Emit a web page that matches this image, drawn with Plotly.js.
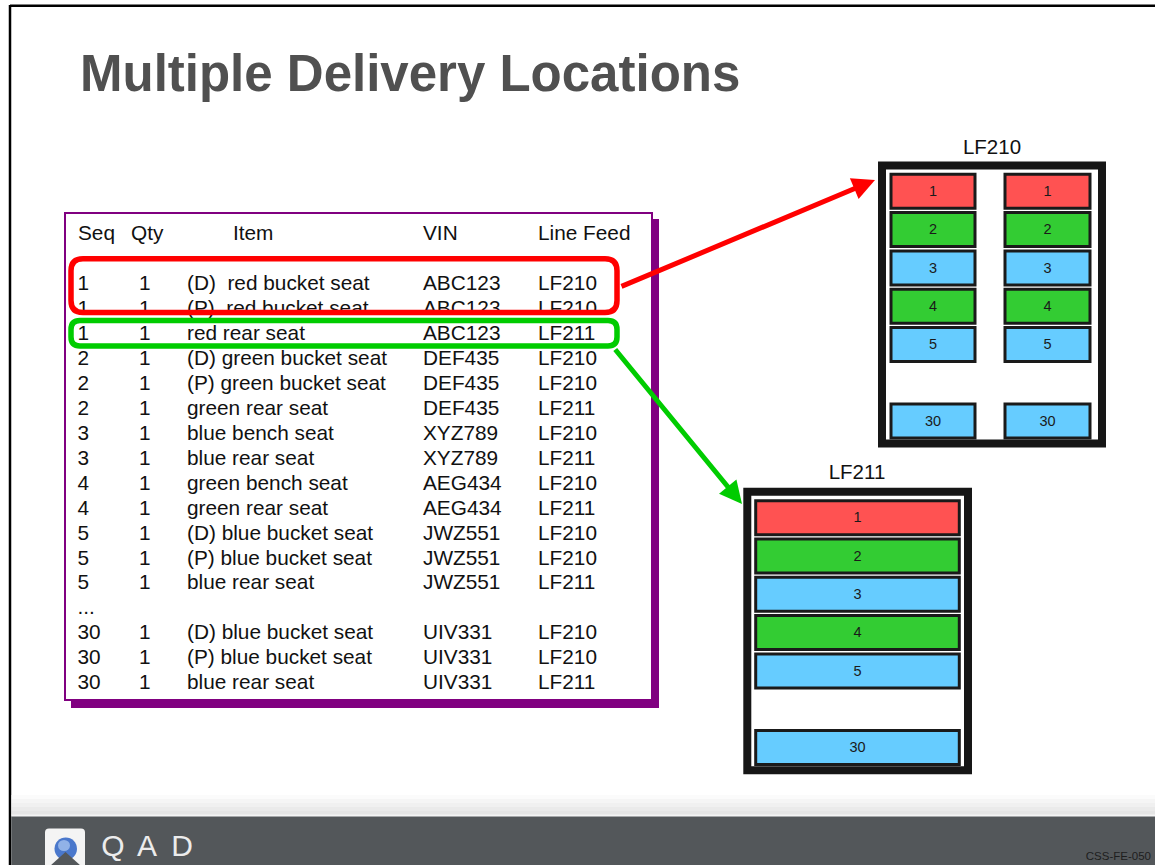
<!DOCTYPE html>
<html><head><meta charset="utf-8">
<script src="https://cdn.plot.ly/plotly-3.0.1.min.js"></script>
<style>html,body{margin:0;padding:0;background:#fff;}#chart{width:1155px;height:865px;}</style>
</head><body><div id="chart"></div>
<script>
// ---------- data ----------
const headers = ['Seq', 'Qty', 'Item', 'VIN', 'Line Feed'];
const seqCol  = ['1','1','1','2','2','2','3','3','4','4','5','5','5','...','30','30','30'];
const qtyCol  = ['1','1','1','1','1','1','1','1','1','1','1','1','1','','1','1','1'];
const itemCol = ['(D)\u00a0 red bucket seat','(P)\u00a0 red bucket seat','red rear seat',
                 '(D) green bucket seat','(P) green bucket seat','green rear seat',
                 'blue bench seat','blue rear seat','green bench seat','green rear seat',
                 '(D) blue bucket seat','(P) blue bucket seat','blue rear seat','',
                 '(D) blue bucket seat','(P) blue bucket seat','blue rear seat'];
const vinCol  = ['ABC123','ABC123','ABC123','DEF435','DEF435','DEF435','XYZ789','XYZ789',
                 'AEG434','AEG434','JWZ551','JWZ551','JWZ551','','UIV331','UIV331','UIV331'];
const feedCol = ['LF210','LF210','LF211','LF210','LF210','LF211','LF210','LF211','LF210',
                 'LF211','LF210','LF210','LF211','','LF210','LF210','LF211'];

const binLabels = ['1','2','3','4','5','30'];
const binSlots  = [0, 1, 2, 3, 4, 6];
const binColors = ['#ff5252','#33cc33','#66ccff','#33cc33','#66ccff','#66ccff'];

const rackNames = ['LF210', 'LF211'];
const titleText = 'Multiple Delivery Locations';
const footerCode = 'CSS-FE-050';
const logoLetters = ['Q', 'A', 'D'];

// ---------- layout geometry ----------
const W = 1155, H = 865;
const FONT = 'Liberation Sans, Arial, sans-serif';
const headerColX = [78, 131, 233, 423, 538];
const cellColX   = [77.5, 139, 187, 423, 538];
const headerY = 235, row0Y = 285, rowStep = 24.94;
const rowYs = seqCol.map((_, i) => row0Y + i * rowStep);

const shapes = [];
const traces = [];

// slide border
shapes.push({type:'line', x0:10, x1:W, y0:5.7, y1:5.7, line:{color:'#000', width:2.5}, layer:'below'});
shapes.push({type:'line', x0:10, x1:10, y0:5, y1:H, line:{color:'#000', width:2.5}, layer:'below'});

// table box with shadow
shapes.push({type:'rect', x0:71, x1:659, y0:219, y1:708, fillcolor:'#800080', line:{width:0}, layer:'below'});
shapes.push({type:'rect', x0:65, x1:652, y0:213, y1:700, fillcolor:'#ffffff', line:{color:'#800080', width:2}, layer:'below'});

// table text
const cols = [seqCol, qtyCol, itemCol, vinCol, feedCol];
cols.forEach((col, c) => {
  traces.push({type:'scatter', mode:'text', x:[headerColX[c]], y:[headerY], text:[headers[c]],
    textposition:'middle right', textfont:{family:FONT, size:20.8, color:'#111'}, hoverinfo:'skip'});
  traces.push({type:'scatter', mode:'text', x:col.map(() => cellColX[c]), y:rowYs, text:col,
    textposition:'middle right', textfont:{family:FONT, size:20.8, color:'#111'}, hoverinfo:'skip'});
});

// rounded highlight boxes
function rr(x0, y0, x1, y1, r) {
  return `M${x0+r},${y0} L${x1-r},${y0} Q${x1},${y0} ${x1},${y0+r} L${x1},${y1-r} Q${x1},${y1} ${x1-r},${y1} ` +
         `L${x0+r},${y1} Q${x0},${y1} ${x0},${y1-r} L${x0},${y0+r} Q${x0},${y0} ${x0+r},${y0} Z`;
}
shapes.push({type:'path', path:rr(71, 258.7, 617, 312.5, 12), line:{color:'#ff0000', width:5.5}, layer:'above'});
shapes.push({type:'path', path:rr(71, 320.5, 617, 346, 9), line:{color:'#00cc00', width:5.5}, layer:'above'});

// racks
const racks = [
  {name:rackNames[0], frame:[882, 165.5, 1102, 443.5], cols:[[891, 975], [1005, 1090]], top:174.3, label:[992, 149]},
  {name:rackNames[1], frame:[747.3, 491.7, 968, 770.3], cols:[[755.7, 959.3]], top:500.7, label:[857, 474]}
];
const binH = 34, binStep = 38.3;
racks.forEach(rk => {
  shapes.push({type:'rect', x0:rk.frame[0], x1:rk.frame[2], y0:rk.frame[1], y1:rk.frame[3],
    fillcolor:'#ffffff', line:{color:'#161616', width:8}, layer:'below'});
  traces.push({type:'scatter', mode:'text', x:[rk.label[0]], y:[rk.label[1]], text:[rk.name],
    textposition:'middle center', textfont:{family:FONT, size:20.5, color:'#111'}, hoverinfo:'skip'});
  rk.cols.forEach(cx => {
    const xs = [], ys = [];
    binLabels.forEach((lab, i) => {
      const y0 = rk.top + binSlots[i] * binStep;
      shapes.push({type:'rect', x0:cx[0], x1:cx[1], y0:y0, y1:y0 + binH,
        fillcolor:binColors[i], line:{color:'#1a1a1a', width:3}, layer:'below'});
      xs.push((cx[0] + cx[1]) / 2); ys.push(y0 + binH / 2 + 1);
    });
    traces.push({type:'scatter', mode:'text', x:xs, y:ys, text:binLabels,
      textposition:'middle center', textfont:{family:FONT, size:14.5, color:'#1a1a1a'}, hoverinfo:'skip'});
  });
});

// title
traces.push({type:'scatter', mode:'text', x:[80], y:[78], text:['<b>' + titleText + '</b>'],
  textposition:'middle right', textfont:{family:FONT, size:51, color:'#505050'}, hoverinfo:'skip'});

// footer
const grad = ['#fbfbfb', '#f5f5f5', '#f0f0f0', '#eaeaea', '#e5e5e5'];
grad.forEach((g, i) => {
  shapes.push({type:'rect', x0:11.5, x1:W, y0:795 + i * 4, y1:799 + i * 4, fillcolor:g, line:{width:0}, layer:'below'});
});
shapes.push({type:'rect', x0:11.5, x1:W, y0:814.5, y1:816.5, fillcolor:'#f4f4f4', line:{width:0}, layer:'below'});
shapes.push({type:'rect', x0:11.3, x1:W, y0:816.5, y1:H, fillcolor:'#53575a', line:{width:0}, layer:'below'});
// logo icon
shapes.push({type:'path', path:rr(45, 828.5, 85, 870, 4), fillcolor:'#f4f4f4', line:{width:0}, layer:'below'});
shapes.push({type:'circle', x0:54.5, x1:77, y0:837.5, y1:860, fillcolor:'#4a78cc', line:{width:0}, layer:'below'});
shapes.push({type:'circle', x0:58, x1:70, y0:840, y1:851, fillcolor:'#a9c6f0', opacity:0.75, line:{width:0}, layer:'below'});
shapes.push({type:'path', path:'M50,866 L65.5,852 L81,866 Z', fillcolor:'#53575a', line:{width:0}, layer:'below'});
traces.push({type:'scatter', mode:'text', x:[113, 147, 182], y:[848, 848, 848], text:logoLetters,
  textposition:'middle center', textfont:{family:FONT, size:30, color:'#ececec'}, hoverinfo:'skip'});
traces.push({type:'scatter', mode:'text', x:[1151], y:[857.5], text:[footerCode],
  textposition:'middle left', textfont:{family:FONT, size:11.5, color:'#1e1e1e'}, hoverinfo:'skip'});

// arrows
const annotations = [
  {x:875, y:180, ax:620, ay:287, xref:'x', yref:'y', axref:'x', ayref:'y', text:'', showarrow:true,
   arrowhead:2, arrowsize:0.9, arrowwidth:5, arrowcolor:'#ff0000'},
  {x:742, y:504, ax:614, ay:348, xref:'x', yref:'y', axref:'x', ayref:'y', text:'', showarrow:true,
   arrowhead:2, arrowsize:0.9, arrowwidth:5, arrowcolor:'#00cc00'}
];

const layout = {
  width:W, height:H, margin:{l:0, r:0, t:0, b:0, pad:0},
  paper_bgcolor:'#ffffff', plot_bgcolor:'#ffffff', showlegend:false,
  xaxis:{range:[0, W], visible:false, fixedrange:true},
  yaxis:{range:[H, 0], visible:false, fixedrange:true},
  shapes:shapes, annotations:annotations
};
Plotly.newPlot('chart', traces, layout, {displayModeBar:false, staticPlot:true});
</script>
</body></html>
